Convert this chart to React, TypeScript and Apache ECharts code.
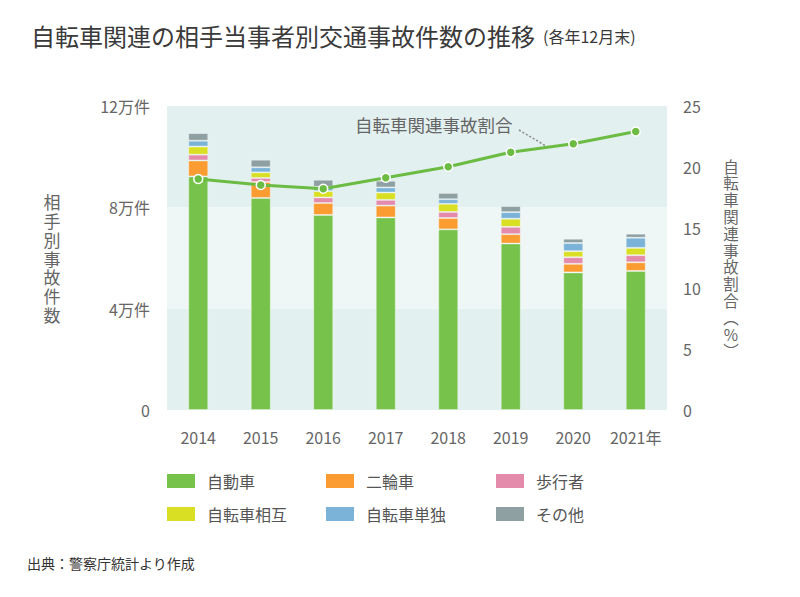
import React, { useEffect, useRef } from "react";
import * as echarts from "echarts";

const years = ["2014", "2015", "2016", "2017", "2018", "2019", "2020", "2021年"];
const car = [92200, 83700, 77000, 76000, 71300, 65700, 54300, 54900];
const moto = [6300, 6300, 4700, 4700, 4500, 3700, 3400, 3400];
const ped = [2300, 1600, 2200, 2250, 2400, 2900, 2600, 2800];
const bikeBike = [3200, 2200, 2500, 2900, 3200, 3200, 2400, 2900];
const bikeSolo = [2300, 2000, 1700, 2000, 1800, 2600, 3200, 4000];
const other = [3000, 3000, 2800, 2650, 2500, 2400, 1700, 1600];
const ratio = [19.0, 18.5, 18.2, 19.1, 20.0, 21.2, 21.9, 22.9];

const seriesNames = ["自動車", "二輪車", "歩行者", "自転車相互", "自転車単独", "その他"];
const seriesData = [car, moto, ped, bikeBike, bikeSolo, other];
const seriesColors = ["#76c24a", "#fa9c32", "#e48aab", "#d9df22", "#7ab3d7", "#8fa0a3"];

const FONT = "'Noto Sans CJK JP', 'Noto Sans', sans-serif";

export default function App() {
  const ref = useRef<HTMLDivElement>(null);
  useEffect(() => {
    document.body.style.margin = "0";
    if (!ref.current) return;
    const chart = echarts.init(ref.current, null, { renderer: "svg" });
    const legendBase = {
      orient: "vertical",
      top: 473,
      padding: 0,
      itemWidth: 28,
      itemHeight: 14,
      itemGap: 17,
      icon: "rect",
      itemStyle: { borderWidth: 0 },
      textStyle: { fontSize: 16, color: "#555", fontFamily: FONT, padding: [0, 0, 0, 7] },
      selectedMode: false,
    };
    const option: any = {
      animation: false,
      textStyle: { fontFamily: FONT },
      title: {
        left: 26,
        top: 18,
        text: "{a|自転車関連の相手当事者別交通事故件数の推移} {b|(各年12月末)}",
        textStyle: {
          rich: {
            a: { fontSize: 24, color: "#3a3a3a", fontFamily: FONT, fontWeight: "normal" },
            b: { fontSize: 16, color: "#3a3a3a", fontFamily: FONT, fontWeight: "normal", padding: [3, 0, 0, 4] },
          },
        },
      },
      legend: [
        { ...legendBase, left: 167, data: ["自動車", "自転車相互"] },
        { ...legendBase, left: 326, data: ["二輪車", "自転車単独"] },
        { ...legendBase, left: 496, data: ["歩行者", "その他"] },
      ],
      grid: { left: 167, right: 133, top: 106, bottom: 187 },
      xAxis: {
        type: "category",
        data: years,
        axisLine: { show: false },
        axisTick: { show: false },
        axisLabel: { fontSize: 16, color: "#666", margin: 19, fontFamily: FONT, interval: 0 },
      },
      yAxis: [
        {
          type: "value",
          min: 0,
          max: 120000,
          interval: 40000,
          axisLine: { show: false },
          axisTick: { show: false },
          splitLine: { show: false },
          splitArea: { show: true, areaStyle: { color: ["#e3f0f0", "#eef7f6"] } },
          axisLabel: {
            fontSize: 16,
            color: "#666",
            margin: 17,
            fontFamily: FONT,
            formatter: (v: number) => (v === 0 ? "0" : v / 10000 + "万件"),
          },
          name: "相手別事故件数".split("").join("\n"),
          nameLocation: "middle",
          nameRotate: 0,
          nameGap: 115,
          nameTextStyle: {
            fontSize: 17,
            lineHeight: 18.8,
            color: "#666",
            align: "center",
            verticalAlign: "middle",
            fontFamily: FONT,
          },
        },
        {
          type: "value",
          min: 0,
          max: 25,
          interval: 5,
          position: "right",
          axisLine: { show: false },
          axisTick: { show: false },
          splitLine: { show: false },
          axisLabel: { fontSize: 16, color: "#666", margin: 16, fontFamily: FONT },
          name: ["自", "転", "車", "関", "連", "事", "故", "割", "合", "︵", "%", "︶"].join("\n"),
          nameLocation: "middle",
          nameRotate: 0,
          nameGap: 64,
          nameTextStyle: {
            fontSize: 15.5,
            lineHeight: 16.8,
            color: "#666",
            align: "center",
            verticalAlign: "middle",
            fontFamily: FONT,
          },
        },
      ],
      series: [
        ...seriesNames.map((name, i) => ({
          name,
          type: "bar",
          stack: "total",
          barWidth: 20,
          data: seriesData[i],
          itemStyle: {
            color: seriesColors[i],
            borderColor: "rgba(255,255,255,0.35)",
            borderWidth: 1,
          },
        })),
        {
          name: "自転車関連事故割合",
          type: "line",
          yAxisIndex: 1,
          data: ratio,
          z: 5,
          symbol: "circle",
          symbolSize: 9,
          lineStyle: { color: "#6cbc44", width: 3 },
          itemStyle: { color: "#6cbc44", borderColor: "#ffffff", borderWidth: 1.5 },
        },
      ],
      graphic: [
        {
          type: "text",
          left: 355,
          top: 116,
          z: 100,
          style: {
            text: "自転車関連事故割合",
            fontSize: 17.5,
            fill: "#666",
            fontFamily: FONT,
          },
        },
        {
          type: "line",
          z: 100,
          shape: { x1: 519, y1: 130, x2: 546, y2: 146 },
          style: { stroke: "#888", lineWidth: 1.5, lineDash: [2, 2] },
        },
        {
          type: "text",
          left: 27,
          top: 556,
          z: 100,
          style: {
            text: "出典：警察庁統計より作成",
            fontSize: 14,
            fill: "#333",
            fontFamily: FONT,
          },
        },
      ],
    };
    chart.setOption(option);
    return () => chart.dispose();
  }, []);
  return <div ref={ref} style={{ width: 800, height: 597 }} />;
}
